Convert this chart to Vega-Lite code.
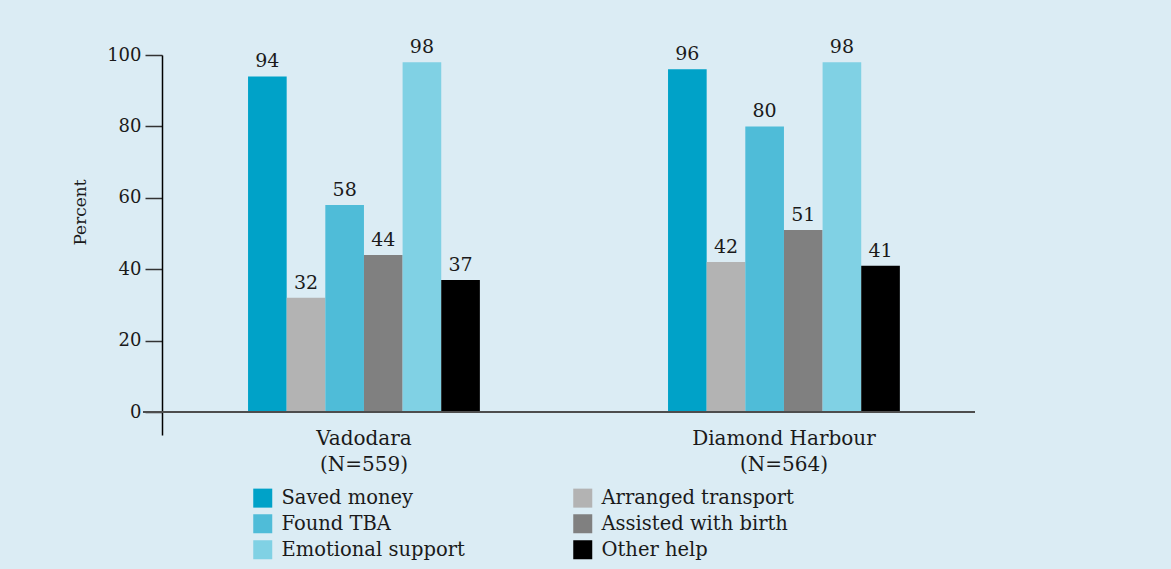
{
  "$schema": "https://vega.github.io/schema/vega-lite/v6.json",
  "width": 832,
  "height": 380,
  "autosize": "none",
  "padding": {"left": 143, "top": 55, "right": 196, "bottom": 134},
  "background": "#dbecf4",
  "config": {"view": {"stroke": null}, "font": "DejaVu Serif"},
  "data": {
    "values": [
      {"site": "Vadodara (N=559)", "type": "Saved money", "pct": 94},
      {"site": "Vadodara (N=559)", "type": "Arranged transport", "pct": 32},
      {"site": "Vadodara (N=559)", "type": "Found TBA", "pct": 58},
      {"site": "Vadodara (N=559)", "type": "Assisted with birth", "pct": 44},
      {"site": "Vadodara (N=559)", "type": "Emotional support", "pct": 98},
      {"site": "Vadodara (N=559)", "type": "Other help", "pct": 37},
      {"site": "Diamond Harbour (N=564)", "type": "Saved money", "pct": 96},
      {"site": "Diamond Harbour (N=564)", "type": "Arranged transport", "pct": 42},
      {"site": "Diamond Harbour (N=564)", "type": "Found TBA", "pct": 80},
      {"site": "Diamond Harbour (N=564)", "type": "Assisted with birth", "pct": 51},
      {"site": "Diamond Harbour (N=564)", "type": "Emotional support", "pct": 98},
      {"site": "Diamond Harbour (N=564)", "type": "Other help", "pct": 41}
    ]
  },
  "layer": [
    {
      "mark": {"type": "bar"},
      "encoding": {
        "x": {
          "field": "site", "type": "nominal", "sort": null,
          "scale": {"paddingInner": 0.448, "paddingOuter": 0.2145, "align": 0.583},
          "axis": {
            "title": null, "domain": false, "ticks": false, "labelAngle": 0,
            "labelFontSize": 20, "labelColor": "#1a1a1a", "labelPadding": -7, "labelLineHeight": 26, "labelLimit": 400,
            "labelExpr": "[slice(datum.label, 0, indexof(datum.label, ' (')), slice(datum.label, indexof(datum.label, ' (') + 1)]"
          }
        },
        "xOffset": {
          "field": "type", "type": "nominal",
          "sort": ["Saved money", "Arranged transport", "Found TBA", "Assisted with birth", "Emotional support", "Other help"],
          "scale": {"paddingInner": 0, "paddingOuter": 0}
        },
        "y": {
          "field": "pct", "type": "quantitative",
          "scale": {"domain": [-6.44, 100], "nice": false, "zero": false},
          "axis": {
            "title": "Percent", "values": [0, 20, 40, 60, 80, 100], "grid": false,
            "offset": -19, "domainColor": "#000000", "domainWidth": 1.5,
            "tickColor": "#333333", "tickSize": 17, "tickWidth": 1.5,
            "labelFontSize": 18, "labelPadding": 4, "labelColor": "#1a1a1a",
            "titleFontSize": 17, "titleFontWeight": "normal", "titleColor": "#1a1a1a",
            "titleX": -82, "titleY": 157, "titleBaseline": "middle", "titleAngle": -90
          }
        },
        "color": {
          "field": "type", "type": "nominal",
          "scale": {
            "domain": ["Saved money", "Arranged transport", "Found TBA", "Assisted with birth", "Emotional support", "Other help"],
            "range": ["#00a2c8", "#b3b3b3", "#4fbcd8", "#808080", "#80d1e4", "#000000"]
          },
          "legend": {
            "orient": "none", "direction": "horizontal", "legendX": 110, "legendY": 433, "columns": 2, "title": null,
            "symbolType": "square", "symbolSize": 361, "symbolStrokeWidth": 0, "symbolOpacity": 1,
            "labelFontSize": 19.5, "labelColor": "#1a1a1a", "labelOffset": 9, "labelLimit": 400,
            "rowPadding": 5, "columnPadding": 108
          }
        }
      }
    },
    {
      "mark": {"type": "text", "baseline": "bottom", "dy": -5, "fontSize": 19, "color": "#1a1a1a"},
      "encoding": {
        "x": {"field": "site", "type": "nominal", "sort": null},
        "xOffset": {
          "field": "type", "type": "nominal",
          "sort": ["Saved money", "Arranged transport", "Found TBA", "Assisted with birth", "Emotional support", "Other help"]
        },
        "y": {"field": "pct", "type": "quantitative"},
        "text": {"field": "pct", "type": "quantitative"}
      }
    },
    {
      "data": {"values": [{"base": 0}]},
      "mark": {"type": "rule", "color": "#4d4d4d", "strokeWidth": 2},
      "encoding": {"y": {"field": "base", "type": "quantitative"}}
    }
  ]
}
